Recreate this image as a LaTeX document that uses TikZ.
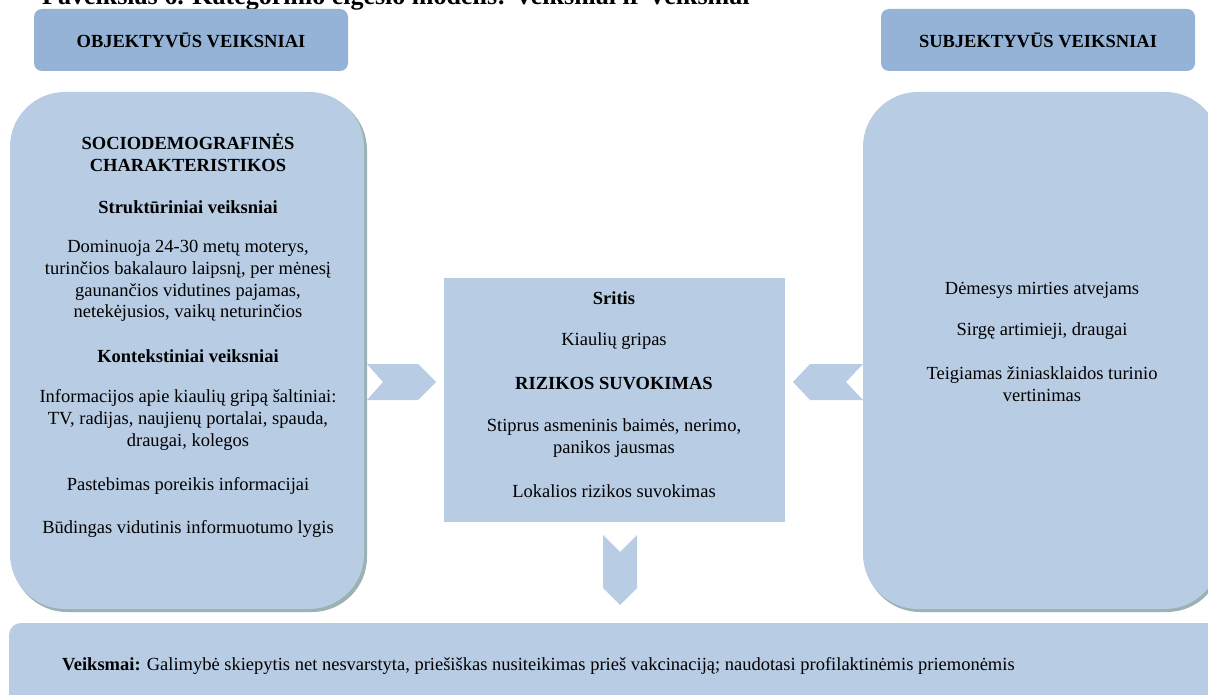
\documentclass[tikz,border=0pt]{standalone}
\usepackage{fontspec}
\setmainfont{Liberation Serif}
\definecolor{hdr}{HTML}{95B3D7}
\definecolor{boxc}{HTML}{B8CCE4}
\definecolor{shd}{HTML}{9AB2B4}
\begin{document}
\begin{tikzpicture}[x=1pt,y=-1pt,
  hdrbox/.style={fill=hdr, rounded corners=8pt, draw=none, minimum width=314pt, minimum height=62pt, inner sep=0pt, font=\fontsize{18.5}{21}\selectfont\bfseries},
  bigbox/.style={fill=boxc, rounded corners=55pt},
  shadowbox/.style={fill=shd, rounded corners=55pt},
  txt/.style={font=\fontsize{18.5}{21.8}\selectfont, align=center, inner sep=0pt},
  btxt/.style={font=\fontsize{18.5}{21.8}\selectfont\bfseries, align=center, inner sep=0pt},
  chev/.style={fill=boxc, draw=none}]
\useasboundingbox (0,0) rectangle (1208,695);
\clip (0,0) rectangle (1208,695);

% cut-off title
\node[anchor=base west, inner sep=0pt, font=\fontsize{26}{30}\selectfont\bfseries] (title) at (42,5) {Paveikslas 6. Kategorinio elgesio modelis: Veiksniai ir Veiksmai};

% headers
\node[hdrbox] (objh) at (191,40) {OBJEKTYVŪS VEIKSNIAI};
\node[hdrbox] (subh) at (1038,40) {SUBJEKTYVŪS VEIKSNIAI};

% left big box
\fill[shadowbox] (12,95) rectangle (367,612);
\path[bigbox] (10,92) rectangle (364,609);
\node[btxt] (l1) at (188,153) {SOCIODEMOGRAFINĖS\\CHARAKTERISTIKOS};
\node[btxt] (l2) at (188,207) {Struktūriniai veiksniai};
\node[txt] (l3) at (188,281) {Dominuoja 24-30 metų moterys,\\turinčios bakalauro laipsnį, per mėnesį\\gaunančios vidutines pajamas,\\netekėjusios, vaikų neturinčios};
\node[btxt] (l4) at (188,356) {Kontekstiniai veiksniai};
\node[txt] (l5) at (188,420) {Informacijos apie kiaulių gripą šaltiniai:\\TV, radijas, naujienų portalai, spauda,\\draugai, kolegos};
\node[txt] (l6) at (188,486) {Pastebimas poreikis informacijai};
\node[txt] (l7) at (188,529) {Būdingas vidutinis informuotumo lygis};

% right big box
\fill[shadowbox] (865,95) rectangle (1222,612);
\path[bigbox] (863,92) rectangle (1220,609);
\node[txt] (r1) at (1042,290) {Dėmesys mirties atvejams};
\node[txt] (r2) at (1042,331) {Sirgę artimieji, draugai};
\node[txt] (r3) at (1042,384) {Teigiamas žiniasklaidos turinio\\vertinimas};

% center box
\fill[boxc] (444,278) rectangle (785,522);
\node[btxt] (c1) at (614,298) {Sritis};
\node[txt] (c2) at (614,341) {Kiaulių gripas};
\node[btxt] (c3) at (614,384) {RIZIKOS SUVOKIMAS};
\node[txt] (c4) at (614,438) {Stiprus asmeninis baimės, nerimo,\\panikos jausmas};
\node[txt] (c5) at (614,491) {Lokalios rizikos suvokimas};

% chevrons
\fill[chev] (367,364) -- (418,364) -- (436,382) -- (418,400) -- (367,400) -- (383,382) -- cycle;
\fill[chev] (810,364) -- (863,364) -- (846,382) -- (863,400) -- (810,400) -- (793,382) -- cycle;
\fill[chev] (603,535) -- (620,552) -- (637,535) -- (637,588) -- (620,605) -- (603,588) -- cycle;

% bottom box
\fill[boxc, rounded corners=12pt] (9,623) rectangle (1230,720);
\node[anchor=west, inner sep=0pt, font=\fontsize{18.5}{21}\selectfont] (act) at (62,666) {\textbf{Veiksmai:} Galimybė skiepytis net nesvarstyta, priešiškas nusiteikimas prieš vakcinaciją; naudotasi profilaktinėmis priemonėmis};
\end{tikzpicture}
\end{document}
